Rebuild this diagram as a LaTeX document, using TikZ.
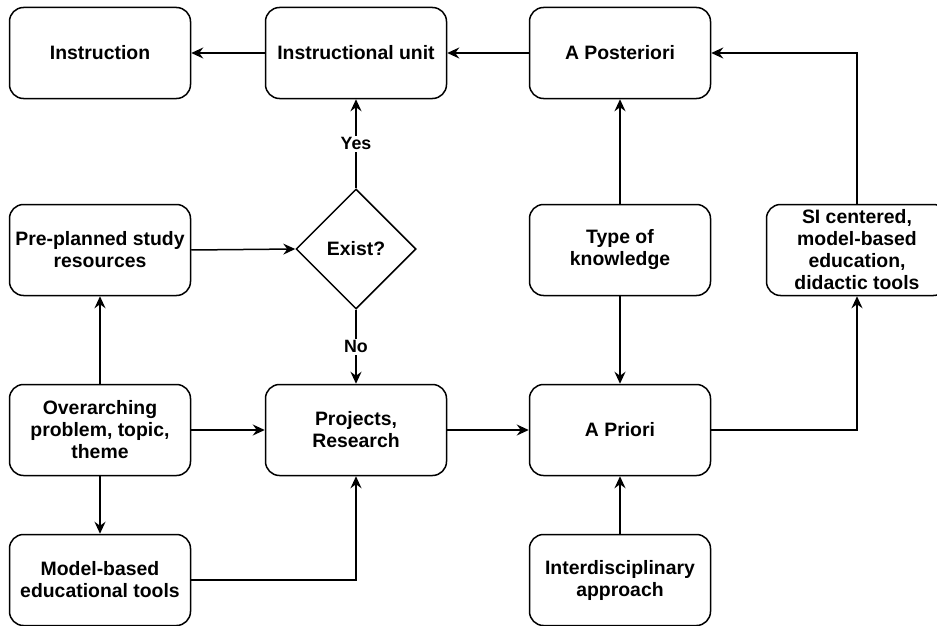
\documentclass[tikz,border=0pt]{standalone}
\usepackage{fontspec}
\setmainfont{Liberation Sans}
\usetikzlibrary{shapes.geometric,arrows.meta}
\begin{document}
\begin{tikzpicture}[x=1pt,y=-1pt,
     box/.style={draw,rectangle,rounded corners=14pt,minimum width=181pt,minimum height=91pt,align=center,line width=1.5pt,font=\fontsize{19.4}{22}\selectfont\bfseries},
     decision/.style={draw,diamond,aspect=1,minimum width=120pt,minimum height=120pt,inner sep=0pt,line width=1.5pt,font=\fontsize{19.4}{22}\selectfont\bfseries},
     lab/.style={fill=white,inner sep=2pt,font=\fontsize{17.8}{20}\selectfont\bfseries},
     link/.style={-{Stealth[length=12pt,width=11pt,inset=4pt]},line width=1.5pt}
     ]
%Size of the page
\useasboundingbox (0,0) rectangle (937,626);

%Columns and rows of the boxes
\def \ca{100}
\def \cb{356}
\def \cc{620}
\def \cd{857}
\def \ra{53}
\def \rb{250}
\def \rc{430}
\def \rd{580}

%Top row
\node[box] (instr) at (\ca,\ra) {Instruction};
\node[box] (unit) at (\cb,\ra) {Instructional unit};
\node[box] (post) at (\cc,\ra) {A Posteriori};

%Second row
\node[box] (pre) at (\ca,\rb) {Pre-planned study\\resources};
\node[decision] (exist) at (\cb,249) {Exist?};
\node[box] (type) at (\cc,\rb) {Type of\\knowledge};
\node[box] (si) at (\cd,\rb) {SI centered,\\model-based\\education,\\didactic tools};

%Third row
\node[box] (over) at (\ca,\rc) {Overarching\\problem, topic,\\theme};
\node[box] (proj) at (\cb,\rc) {Projects,\\Research};
\node[box] (prior) at (\cc,\rc) {A Priori};

%Bottom row
\node[box] (model) at (\ca,\rd) {Model-based\\educational tools};
\node[box] (inter) at (\cc,\rd) {Interdisciplinary\\approach};

%Connections
\draw[link] (unit) -- (instr);
\draw[link] (post) -- (unit);
\draw[link] (si.north) |- (post.east);
\draw[link] (type) -- (post);
\draw[link] (type) -- (prior);
\draw[link] (inter) -- (prior);
\draw[link] (prior.east) -| (si.south);
\draw[link] (proj) -- (prior);
\draw[link] (over) -- (proj);
\draw[link] (over) -- (pre);
\draw[link] (over) -- (model);
\draw[link] (model.east) -| (proj.south);
\draw[link] (pre.east) -- (exist.west);
\draw[link] (exist) -- node[lab] {Yes} (unit);
\draw[link] (exist) -- node[lab] {No} (proj);
\end{tikzpicture}
\end{document}
